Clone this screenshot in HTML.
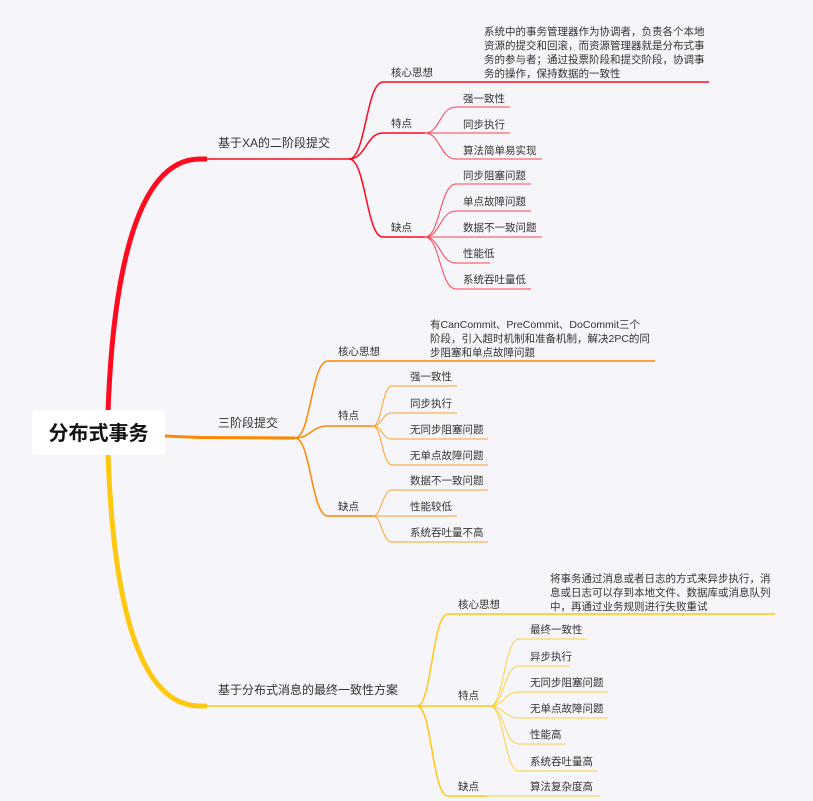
<!DOCTYPE html>
<html><head><meta charset="utf-8"><style>
html,body{margin:0;padding:0;background:#f5f5fa;}
svg{display:block;}
text{font-family:"Liberation Sans","Noto Sans CJK SC",sans-serif;fill:#333;}
.l{font-size:10.5px;}
.t{font-size:12px;}
</style></head><body>
<svg width="813" height="801" viewBox="0 0 813 801" xmlns="http://www.w3.org/2000/svg">
<rect width="813" height="801" fill="#f5f5fa"/>
<!-- main curves -->
<path d="M108,412 C112,300 130,159 200,159 L207,159" fill="none" stroke="#ff0a1e" stroke-width="5"/>
<path d="M200,159 L349,159" stroke="#ff0a1e" stroke-width="1.5"/>
<path d="M165,436 L200,437.5 L295,438" fill="none" stroke="#ff8800" stroke-width="3"/>
<path d="M200,438 L295,438" stroke="#ff8800" stroke-width="1.5"/>
<path d="M108,453 C112,570 130,706 200,706 L207,706" fill="none" stroke="#ffc810" stroke-width="5"/>
<path d="M200,706 L417,706" stroke="#ffc810" stroke-width="1.5"/>
<rect x="32" y="410" width="133" height="45" rx="4" fill="#fff"/>
<text x="98.5" y="440" text-anchor="middle" style="font-size:20px;font-weight:bold;fill:#111">分布式事务</text>

<!-- branch 1 red -->
<g fill="none" stroke="#ff0a1e" stroke-width="1.5">
<path d="M349,159 C366,159 366,82 383,82 L709,82"/>
<path d="M349,159 C366,159 366,133 383,133 L425,133"/>
<path d="M349,159 C366,159 366,237 383,237 L425,237"/>
</g>
<g fill="none" stroke="#ff4050" stroke-width="1">
<path d="M425,133 C440,133 440,107 456,107 L510,107"/>
<path d="M425,133 L510,133"/>
<path d="M425,133 C440,133 440,159 456,159 L542,159"/>
<path d="M425,237 C440,237 440,184 456,184 L531,184"/>
<path d="M425,237 C440,237 440,211 456,211 L531,211"/>
<path d="M425,237 L542,237"/>
<path d="M425,237 C440,237 440,263 456,263 L490,263"/>
<path d="M425,237 C440,237 440,289 456,289 L531,289"/>
</g>
<text class="t" x="218" y="147">基于XA的二阶段提交</text>
<text class="l" x="391" y="76">核心思想</text>
<text class="l" x="484" y="35">系统中的事务管理器作为协调者，负责各个本地</text>
<text class="l" x="484" y="49">资源的提交和回滚，而资源管理器就是分布式事</text>
<text class="l" x="484" y="63">务的参与者；通过投票阶段和提交阶段，协调事</text>
<text class="l" x="484" y="77">务的操作，保持数据的一致性</text>
<text class="l" x="391" y="127">特点</text>
<text class="l" x="391" y="231">缺点</text>
<text class="l" x="463" y="102">强一致性</text>
<text class="l" x="463" y="128">同步执行</text>
<text class="l" x="463" y="154">算法简单易实现</text>
<text class="l" x="463" y="179">同步阻塞问题</text>
<text class="l" x="463" y="205">单点故障问题</text>
<text class="l" x="463" y="231">数据不一致问题</text>
<text class="l" x="463" y="257">性能低</text>
<text class="l" x="463" y="283">系统吞吐量低</text>

<!-- branch 2 orange -->
<g fill="none" stroke="#ff8800" stroke-width="1.5">
<path d="M295,438 C311,438 311,361 328,361 L655,361"/>
<path d="M295,438 C311,438 311,426 328,426 L373,426"/>
<path d="M295,438 C311,438 311,516 328,516 L373,516"/>
</g>
<g fill="none" stroke="#ffa030" stroke-width="1">
<path d="M373,426 C382,426 382,386 392,386 L457,386"/>
<path d="M373,426 C382,426 382,413 392,413 L457,413"/>
<path d="M373,426 C382,426 382,439 392,439 L488,439"/>
<path d="M373,426 C382,426 382,465 392,465 L488,465"/>
<path d="M373,516 C382,516 382,490 392,490 L488,490"/>
<path d="M373,516 L457,516"/>
<path d="M373,516 C382,516 382,542 392,542 L488,542"/>
</g>
<text class="t" x="218" y="427">三阶段提交</text>
<text class="l" x="338" y="355">核心思想</text>
<text class="l" x="430" y="328">有CanCommit、PreCommit、DoCommit三个</text>
<text class="l" x="430" y="342">阶段，引入超时机制和准备机制，解决2PC的同</text>
<text class="l" x="430" y="356">步阻塞和单点故障问题</text>
<text class="l" x="338" y="419">特点</text>
<text class="l" x="338" y="510">缺点</text>
<text class="l" x="410" y="380">强一致性</text>
<text class="l" x="410" y="407">同步执行</text>
<text class="l" x="410" y="433">无同步阻塞问题</text>
<text class="l" x="410" y="459">无单点故障问题</text>
<text class="l" x="410" y="484">数据不一致问题</text>
<text class="l" x="410" y="510">性能较低</text>
<text class="l" x="410" y="536">系统吞吐量不高</text>

<!-- branch 3 yellow -->
<g fill="none" stroke="#ffc810" stroke-width="1.5">
<path d="M417,706 C432,706 432,614 448,614 L775,614"/>
<path d="M417,706 L490,706"/>
<path d="M417,706 C432,706 432,796 448,796 L487,796"/>
</g>
<g fill="none" stroke="#ffd040" stroke-width="1">
<path d="M490,706 C504,706 504,639 519,639 L587,639"/>
<path d="M490,706 C504,706 504,666 519,666 L570,666"/>
<path d="M490,706 C504,706 504,692 519,692 L608,692"/>
<path d="M490,706 C504,706 504,718 519,718 L608,718"/>
<path d="M490,706 C504,706 504,744 519,744 L566,744"/>
<path d="M490,706 C504,706 504,771 519,771 L597,771"/>
<path d="M487,796 L600,796"/>
</g>
<text class="t" x="218" y="694">基于分布式消息的最终一致性方案</text>
<text class="l" x="458" y="608">核心思想</text>
<text class="l" x="550" y="582">将事务通过消息或者日志的方式来异步执行，消</text>
<text class="l" x="550" y="596">息或日志可以存到本地文件、数据库或消息队列</text>
<text class="l" x="550" y="610">中，再通过业务规则进行失败重试</text>
<text class="l" x="458" y="699">特点</text>
<text class="l" x="458" y="790">缺点</text>
<text class="l" x="530" y="633">最终一致性</text>
<text class="l" x="530" y="660">异步执行</text>
<text class="l" x="530" y="686">无同步阻塞问题</text>
<text class="l" x="530" y="712">无单点故障问题</text>
<text class="l" x="530" y="738">性能高</text>
<text class="l" x="530" y="765">系统吞吐量高</text>
<text class="l" x="530" y="790">算法复杂度高</text>
</svg>
</body></html>
